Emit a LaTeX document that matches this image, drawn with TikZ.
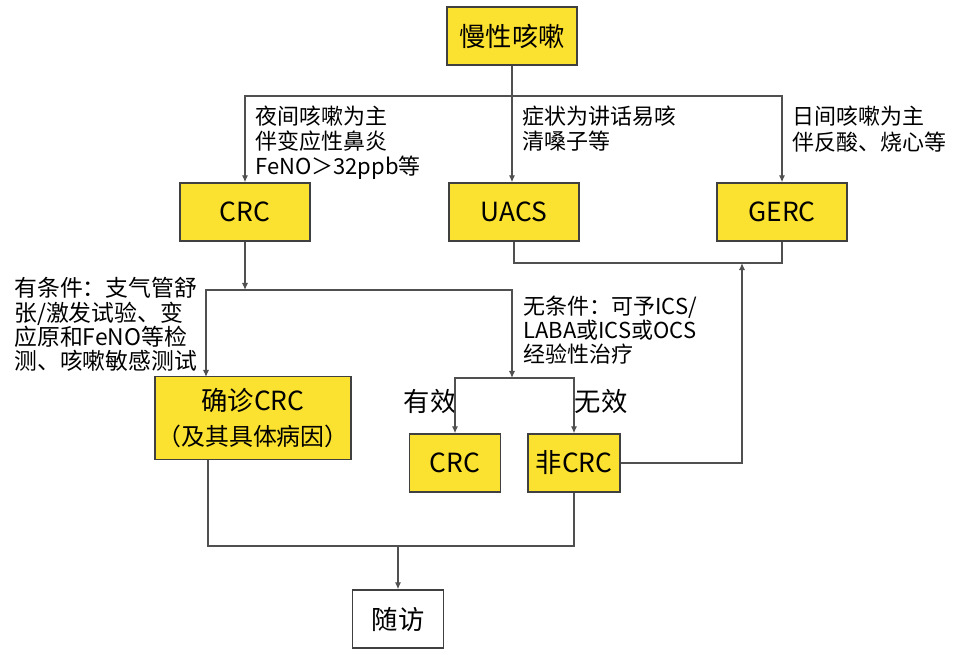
\documentclass[tikz,border=0pt]{standalone}
\usepackage{fontspec}
\setmainfont{Noto Sans CJK SC}
\usetikzlibrary{arrows.meta}
\definecolor{boxyellow}{RGB}{251,225,48}
\definecolor{linegray}{RGB}{80,80,80}

\begin{document}
\begin{tikzpicture}[x=0.02cm, y=-0.02cm, >={Latex[length=4pt,width=3.5pt]},
  box/.style={draw=black!75, line width=0.8pt, fill=boxyellow, minimum width=2.6cm, minimum height=1.16cm, inner sep=0pt, font=\fontsize{15}{20}\selectfont},
  note/.style={anchor=north west, align=left, inner sep=0pt, font=\fontsize{12.5}{14.2}\selectfont},
  link/.style={draw=linegray, line width=0.7pt}]
\useasboundingbox (0,0) rectangle (960,659);

% Kasten
\node[box] (cough) at (512,36) {慢性咳嗽};
\node[box] (crc) at (245,212) {CRC};
\node[box] (uacs) at (514,212) {UACS};
\node[box] (gerc) at (782,212) {GERC};
\node[box, minimum width=3.92cm, minimum height=1.66cm, align=center, font=\fontsize{13.6}{19.8}\selectfont] (confirm) at (253,418) {\fontsize{15}{19.8}\selectfont 确诊CRC\\（及其具体病因）};
\node[box, minimum width=1.82cm] (crctwo) at (455,463) {CRC};
\node[box, minimum width=1.84cm] (noncrc) at (574,463) {非CRC};
\node[box, fill=white, minimum width=1.82cm] (followup) at (398,619) {随访};

% Hinweise
\node[note] (nightnote) at (255,106) {夜间咳嗽为主\\伴变应性鼻炎\\FeNO＞32ppb等};
\node[note] (uacsnote) at (522,106) {症状为讲话易咳\\清嗓子等};
\node[note, font=\fontsize{12.5}{14.8}\selectfont] (daynote) at (792,106) {日间咳嗽为主\\伴反酸、烧心等};
\node[note, font=\fontsize{13}{13.9}\selectfont] (testnote) at (14,277) {有条件：支气管舒\\张/激发试验、变\\应原和FeNO等检\\测、咳嗽敏感测试};
\node[note, font=\fontsize{12.5}{13.6}\selectfont] (trialnote) at (523,296) {无条件：可予ICS/\\LABA或ICS或OCS\\经验性治疗};
\node[font=\fontsize{15}{18}\selectfont] (effective) at (430,402) {有效};
\node[font=\fontsize{15}{18}\selectfont] (noeffect) at (601,402) {无效};

% Verzweigungen
\coordinate (splitone) at (512,96);
\coordinate (jointwo) at (742,263);
\coordinate (splittwo) at (245,290);
\coordinate (confirmtop) at (206,377);
\coordinate (trial) at (512,378);
\coordinate (confirmbot) at (208,460);
\coordinate (merge) at (398,546);

% Verbindungen
\draw[link] (cough.south) -- (splitone);
\draw[link, ->] (splitone) -| (crc.north);
\draw[link, ->] (splitone) -- (splitone |- uacs.north);
\draw[link, ->] (splitone) -| (gerc.north);
\draw[link] (uacs.south) |- (jointwo) -| (gerc.south);
\draw[link, ->] (noncrc.east) -| (jointwo);
\draw[link, ->] (crc.south) -- (splittwo);
\draw[link, ->] (splittwo) -| (confirmtop);
\draw[link, ->] (splittwo) -| (trial);
\draw[link, ->] (trial) -| (crctwo.north);
\draw[link, ->] (trial) -| (noncrc.north);
\draw[link] (confirmbot) |- (merge) -| (noncrc.south);
\draw[link, ->] (merge) -- (followup.north);
\end{tikzpicture}
\end{document}
